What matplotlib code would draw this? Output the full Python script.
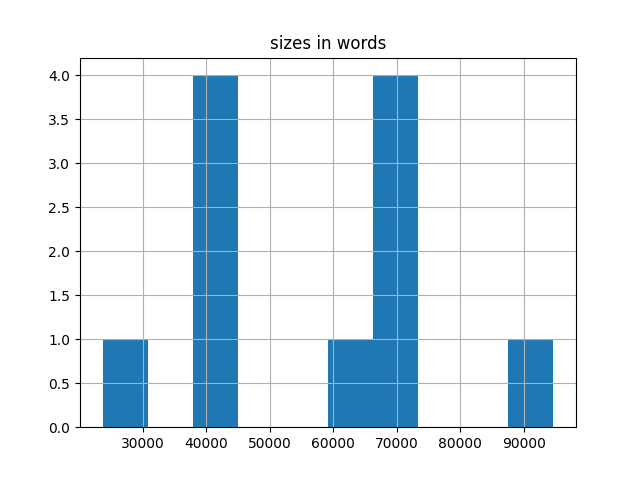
import pandas as pd
import matplotlib.pyplot as plt

# word counts (10 bins)
titles = ['a', 'b', 'c', 'd', 'e', 'f', 'g', 'h', 'i', 'j', 'k']
words = [23700, 39500, 41500, 42500, 44000, 62000, 67000, 68500, 70000, 72000, 94700]

df = pd.DataFrame({'sizes in words': words}, index=titles)

fig = plt.figure(figsize=(6.4, 4.8), dpi=100)
ax = fig.add_subplot(111)
df.hist(column='sizes in words', ax=ax)
fig.savefig('out.png', dpi=100)
